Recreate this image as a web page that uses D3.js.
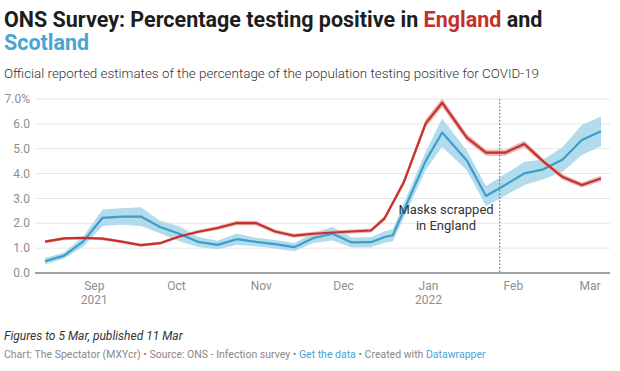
<!DOCTYPE html>
<html>
<head>
<meta charset="utf-8">
<script src="https://cdn.jsdelivr.net/npm/d3@7"></script>
<style>
  body { margin: 0; background: #fff; }
  svg { display: block; font-family: Roboto, sans-serif; }
</style>
</head>
<body>
<div id="chart"></div>
<script>
// weekly ONS reference dates (Scotland and England differ over Christmas)
const weeks = ['2021-08-14','2021-08-21','2021-08-28','2021-09-04','2021-09-11','2021-09-18','2021-09-25',
  '2021-10-02','2021-10-09','2021-10-16','2021-10-23','2021-10-30','2021-11-06','2021-11-13','2021-11-20',
  '2021-11-27','2021-12-04','2021-12-11','2021-12-16','2021-12-19','2021-12-23','2021-12-31','2022-01-06',
  '2022-01-15','2022-01-22','2022-01-29','2022-02-05','2022-02-12','2022-02-19','2022-02-26','2022-03-05'];

const england = [1.26,1.39,1.41,1.38,1.26,1.12,1.20,1.47,1.66,1.81,2.01,2.01,1.67,1.50,1.58,
  1.63,1.67,1.71,2.20,null,3.65,6.02,6.85,5.45,4.84,4.84,5.19,4.48,3.86,3.54,3.80];
const englandLow = [1.20,1.33,1.35,1.32,1.20,1.06,1.14,1.40,1.59,1.73,1.92,1.92,1.59,1.42,1.50,
  1.55,1.59,1.63,2.10,null,3.52,5.85,6.68,5.30,4.72,4.72,5.06,4.36,3.75,3.44,3.69];
const englandHigh = [1.32,1.45,1.47,1.44,1.32,1.18,1.26,1.54,1.73,1.89,2.10,2.10,1.75,1.58,1.66,
  1.71,1.75,1.79,2.30,null,3.78,6.19,7.02,5.60,4.96,4.96,5.32,4.60,3.97,3.64,3.91];

const scotland = [0.47,0.70,1.27,2.22,2.27,2.27,1.85,1.58,1.25,1.13,1.36,1.25,1.16,1.04,1.41,
  1.58,1.23,1.24,1.45,1.52,null,4.51,5.65,4.53,3.10,3.54,4.01,4.17,4.57,5.35,5.70];
const scotlandLow = [0.34,0.58,1.07,1.89,1.94,1.89,1.60,1.28,1.05,0.96,1.13,1.08,0.99,0.87,1.21,
  1.31,1.03,1.04,1.22,1.27,null,4.14,5.08,4.13,2.70,3.11,3.54,3.77,4.07,4.75,5.10];
const scotlandHigh = [0.60,0.82,1.47,2.55,2.60,2.65,2.10,1.88,1.45,1.30,1.59,1.42,1.33,1.21,1.61,
  1.85,1.43,1.44,1.68,1.77,null,4.88,6.22,4.93,3.50,3.97,4.48,4.57,5.07,5.95,6.30];

const yTicks = [0, 1, 2, 3, 4, 5, 6, 7];
const monthTicks = ['2021-09-01','2021-10-01','2021-11-01','2021-12-01','2022-01-01','2022-02-01','2022-03-01'];
const masksDate = '2022-01-27';

const width = 620, height = 371;
const parse = d3.timeParse('%Y-%m-%d');

const svg = d3.select('#chart').append('svg')
    .attr('width', width)
    .attr('height', height);

// 标题
const title = svg.append('text')
    .attr('x', 4)
    .attr('y', 27)
    .style('font-size', '21.5px')
    .style('font-weight', 700)
    .style('fill', '#1d1d1d');
title.append('tspan').text('ONS Survey: Percentage testing positive in ');
title.append('tspan').text('England').style('fill', '#c4312c');
title.append('tspan').text(' and');
svg.append('text')
    .attr('x', 4)
    .attr('y', 50)
    .style('font-size', '21.5px')
    .style('font-weight', 700)
    .style('fill', '#47a5d3')
    .text('Scotland');

svg.append('text')
    .attr('x', 4)
    .attr('y', 78)
    .style('font-size', '13.4px')
    .style('font-weight', 300)
    .style('fill', '#333')
    .text('Official reported estimates of the percentage of the population testing positive for COVID-19');

// scales
const x = d3.scaleTime()
    .domain([parse(weeks[0]), parse(weeks[weeks.length - 1])])
    .range([45, 601]);
const y = d3.scaleLinear()
    .domain([0, 7])
    .range([273, 99]);

// gridlines + y labels
const grid = svg.append('g');
grid.selectAll('line')
    .data(yTicks.filter(d => d > 0))
    .join('line')
    .attr('x1', 35)
    .attr('x2', 610)
    .attr('y1', d => y(d))
    .attr('y2', d => y(d))
    .style('stroke', '#e6e6e6')
    .style('stroke-width', 1);

grid.selectAll('text')
    .data(yTicks)
    .join('text')
    .attr('x', 30)
    .attr('y', d => y(d))
    .attr('dy', '0.35em')
    .style('text-anchor', 'end')
    .style('font-size', '12px')
    .style('fill', '#8e8e8e')
    .text(d => d === 7 ? d.toFixed(1) + '%' : d.toFixed(1));

// x labels
const months = monthTicks.map(parse);
const xLabels = svg.append('g');
months.forEach(m => {
    const t = xLabels.append('text')
        .attr('x', x(m))
        .attr('y', 290)
        .style('text-anchor', 'middle')
        .style('font-size', '12px')
        .style('fill', '#8e8e8e');
    t.append('tspan').attr('x', x(m)).text(d3.timeFormat('%b')(m));
    if (m.getMonth() === 8 || m.getMonth() === 0) {
        t.append('tspan').attr('x', x(m)).attr('dy', 14).text(m.getFullYear());
    }
});

function series(vals, low, high) {
    return weeks.map((w, i) => ({ date: parse(w), v: vals[i], lo: low[i], hi: high[i] }))
        .filter(d => d.v !== null);
}
const eng = series(england, englandLow, englandHigh);
const sco = series(scotland, scotlandLow, scotlandHigh);

const area = d3.area()
    .x(d => x(d.date))
    .y0(d => y(d.lo))
    .y1(d => y(d.hi));
const line = d3.line()
    .x(d => x(d.date))
    .y(d => y(d.v));

// confidence bands
svg.append('path').datum(sco).attr('d', area)
    .style('fill', '#b2dbec');
svg.append('path').datum(eng).attr('d', area)
    .style('fill', '#e9b5b3');

// axis baseline
svg.append('line')
    .attr('x1', 35).attr('x2', 610)
    .attr('y1', y(0)).attr('y2', y(0))
    .style('stroke', '#444')
    .style('stroke-width', 1.2);

// masks annotation
const md = parse(masksDate);
svg.append('line')
    .attr('x1', x(md)).attr('x2', x(md))
    .attr('y1', y(7)).attr('y2', y(0))
    .style('stroke', '#777')
    .style('stroke-width', 1.2)
    .style('stroke-dasharray', '1.5,2');

svg.append('path').datum(sco).attr('d', line)
    .style('fill', 'none')
    .style('stroke', '#3d9dcb')
    .style('stroke-width', 2.2)
    .style('stroke-linejoin', 'round');
svg.append('path').datum(eng).attr('d', line)
    .style('fill', 'none')
    .style('stroke', '#c4312c')
    .style('stroke-width', 2.2)
    .style('stroke-linejoin', 'round');

const note = svg.append('text')
    .attr('x', 446)
    .attr('y', 214)
    .style('text-anchor', 'middle')
    .style('font-size', '13px')
    .style('fill', '#333');
note.append('tspan').attr('x', 446).text('Masks scrapped');
note.append('tspan').attr('x', 446).attr('dy', 16).text('in England');

// footer
svg.append('text')
    .attr('x', 4)
    .attr('y', 340)
    .style('font-size', '12px')
    .style('font-style', 'italic')
    .style('fill', '#333')
    .text('Figures to 5 Mar, published 11 Mar');

const src = svg.append('text')
    .attr('x', 4)
    .attr('y', 358)
    .style('font-size', '10.5px')
    .style('fill', '#888');
src.append('tspan').text('Chart: The Spectator (MXYcr) • Source: ONS - Infection survey • ');
src.append('tspan').text('Get the data').style('fill', '#47a5d3');
src.append('tspan').text(' • Created with ');
src.append('tspan').text('Datawrapper').style('fill', '#47a5d3');
</script>
</body>
</html>
